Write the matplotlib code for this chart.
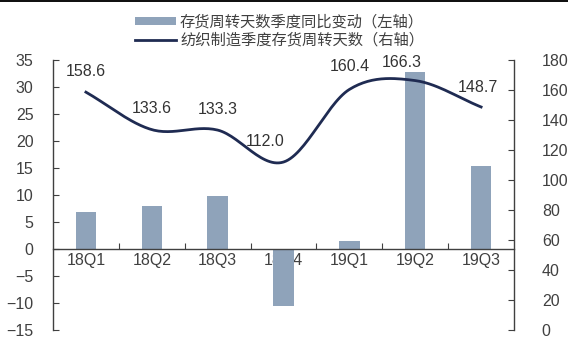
import numpy as np
import matplotlib
matplotlib.use("Agg")
import matplotlib.pyplot as plt
from matplotlib.lines import Line2D
from matplotlib.patches import Patch

plt.rcParams['font.family'] = ['Liberation Sans', 'Noto Sans CJK SC', 'DejaVu Sans']

quarters = ["18Q1", "18Q2", "18Q3", "18Q4", "19Q1", "19Q2", "19Q3"]
yoy_change = [6.9, 8.0, 9.9, -10.6, 1.5, 32.7, 15.4]          # left axis, bars
turnover_days = [158.6, 133.6, 133.3, 112.0, 160.4, 166.3, 148.7]  # right axis, line

bar_label = "存货周转天数季度同比变动（左轴）"
line_label = "纺织制造季度存货周转天数（右轴）"

bar_color = "#8FA3BA"
line_color = "#1F2B52"
axis_color = "#404040"
text_color = "#404040"


def smooth_curve(x, y, n=30):
    """Catmull-Rom spline through the points (smoothed line style)."""
    x = np.asarray(x, float)
    y = np.asarray(y, float)
    px = np.concatenate([[2 * x[0] - x[1]], x, [2 * x[-1] - x[-2]]])
    py = np.concatenate([[2 * y[0] - y[1]], y, [2 * y[-1] - y[-2]]])
    xs, ys = [], []
    t = np.linspace(0, 1, n)
    for i in range(1, len(px) - 2):
        for p, out in ((px, xs), (py, ys)):
            p0, p1, p2, p3 = p[i - 1], p[i], p[i + 1], p[i + 2]
            seg = 0.5 * ((2 * p1) + (-p0 + p2) * t
                         + (2 * p0 - 5 * p1 + 4 * p2 - p3) * t ** 2
                         + (-p0 + 3 * p1 - 3 * p2 + p3) * t ** 3)
            out.extend(seg if i == 1 else seg[1:])
    return np.array(xs), np.array(ys)


fig = plt.figure(figsize=(5.68, 3.4), dpi=100)
ax = fig.add_axes([0.0933, 0.0294, 0.8117, 0.794])
x = np.arange(len(quarters))

ax.bar(x, yoy_change, width=0.31, color=bar_color, zorder=2)
ax.set_xlim(-0.5, len(quarters) - 0.5)
ax.set_ylim(-15, 35)
ax.set_yticks(np.arange(-15, 36, 5))

ax.spines['top'].set_visible(False)
ax.spines['right'].set_visible(False)
ax.spines['bottom'].set_position(('data', 0))
for s in ('left', 'bottom'):
    ax.spines[s].set_color(axis_color)
    ax.spines[s].set_linewidth(1.0)

# category ticks sit between groups; labels sit under the zero line
ax.set_xticks(np.arange(0.5, len(quarters) - 0.5, 1.0))
ax.set_xticklabels([])
ax.tick_params(axis='x', direction='in', length=4, color=axis_color)
for xi, q in zip(x, quarters):
    ax.text(xi, -2.2, q, ha='center', va='center', fontsize=11.5,
            color=text_color, zorder=1)

ax.tick_params(axis='y', direction='in', length=4, color=axis_color,
               labelsize=11.5, labelcolor=text_color, pad=14)

ax2 = ax.twinx()
ax2.set_ylim(0, 180)
ax2.set_yticks(np.arange(0, 181, 20))
for s in ('top', 'left', 'bottom'):
    ax2.spines[s].set_visible(False)
ax2.spines['right'].set_color(axis_color)
ax2.spines['right'].set_linewidth(1.0)
ax2.tick_params(axis='y', direction='in', length=4, color=axis_color,
                labelsize=11.5, labelcolor=text_color, pad=20)

sx, sy = smooth_curve(x, turnover_days)
ax2.plot(sx, sy, color=line_color, lw=2.0, zorder=3)

label_offsets = [(0, 14), (0, 14), (0, 14), (-0.28, 14), (0, 15), (-0.2, 12), (-0.05, 13)]
for xi, v, (dx, dy) in zip(x, turnover_days, label_offsets):
    ax2.text(xi + dx, v + dy, f"{v:.1f}", ha='center', va='center',
             fontsize=11.5, color="#333333", zorder=4)

handles = [Patch(facecolor=bar_color, edgecolor='none'),
           Line2D([0], [0], color=line_color, lw=2.0)]
fig.legend(handles, [bar_label, line_label], loc='upper center',
           bbox_to_anchor=(0.492, 1.0), frameon=False, ncol=1,
           handlelength=2.7, handleheight=0.4,
           handletextpad=0.25, labelspacing=0.05, labelcolor=text_color,
           prop={'family': ['Noto Sans CJK SC', 'DejaVu Sans'], 'size': 11})

# thin dark band along the top edge
fig.add_artist(plt.Rectangle((0, 0.993), 1, 0.007, transform=fig.transFigure,
                             color='#111111', lw=0))

fig.savefig("out.png", dpi=100)
